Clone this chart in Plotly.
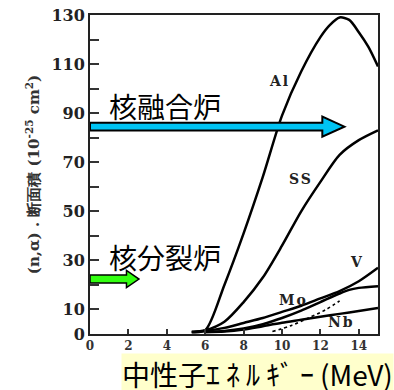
import plotly.graph_objects as go

# ---- data ----
x_al = [5.3, 6, 7, 8, 9, 10, 11, 12, 12.5, 13, 13.5, 14, 14.5, 15]
y_al = [0.8, 1.5, 20, 41, 64, 89, 107, 121, 126, 129, 128, 123, 117, 109]

x_ss = [5.3, 6, 7, 8, 9, 10, 11, 12, 13, 14, 15]
y_ss = [0.8, 1.5, 5, 13, 23, 36, 50, 62, 73, 79, 83]

x_v = [5.3, 6, 7, 8, 9, 10, 11, 12, 13, 14, 15]
y_v = [0.8, 1.2, 2.5, 4.5, 6.5, 9, 11.5, 14.5, 17.5, 21.5, 27]

x_mo = [6, 7, 8, 9, 10, 11, 12, 13, 13.5, 14, 15]
y_mo = [0.8, 1.2, 2.2, 4, 6.5, 9.5, 13, 16.5, 18, 18.8, 19.5]

x_nb = [6, 7, 8, 9, 10, 11, 12, 13, 14, 15]
y_nb = [0.8, 1.0, 1.8, 3.2, 4.6, 5.8, 7.0, 8.2, 9.4, 10.6]

x_dash = [9.5, 10.5, 11.5, 12.3, 13]
y_dash = [1, 3.5, 7, 10, 13.5]

curve_labels = ["Al", "SS", "V", "Mo", "Nb"]
label_x = [9.85, 11.0, 13.9, 10.6, 13.1]
label_y = [103, 63, 29.5, 14, 4.9]

x_ticks = [0, 2, 4, 6, 8, 10, 12, 14]
y_ticks = [0, 10, 20, 30, 40, 50, 60, 70, 80, 90, 100, 110, 120, 130]
y_ticktext = ["0", "10", " ", "30", " ", "50", " ", "70", " ", "90", " ", "110", " ", "130"]

fusion_y = 84.5      # 核融合炉 arrow level
fission_y = 22.4     # 核分裂炉 arrow level

serif = "DejaVu Serif"
cjk = "Noto Sans CJK JP"

fig = go.Figure()

line = dict(color="black", width=2.5, shape="spline", smoothing=0.8)
for xs, ys in [(x_al, y_al), (x_ss, y_ss), (x_v, y_v), (x_mo, y_mo), (x_nb, y_nb)]:
    fig.add_trace(go.Scatter(x=xs, y=ys, mode="lines", line=line, hoverinfo="skip"))
fig.add_trace(go.Scatter(x=x_dash, y=y_dash, mode="lines",
                         line=dict(color="black", width=1.6, dash="dot", shape="spline"),
                         hoverinfo="skip"))

# curve labels
for t, lx, ly in zip(curve_labels, label_x, label_y):
    fig.add_annotation(x=lx, y=ly, text=f'<span style="letter-spacing:2px">{t}</span>',
                       showarrow=False,
                       font=dict(family=serif, size=14, color="#222", weight="bold"))


def arrow_path(x0, x_head, x_tip, yc, half_shaft, half_head):
    return (f"M {x0},{yc - half_shaft} L {x_head},{yc - half_shaft} "
            f"L {x_head},{yc - half_head} L {x_tip},{yc} L {x_head},{yc + half_head} "
            f"L {x_head},{yc + half_shaft} L {x0},{yc + half_shaft} Z")


fig.add_shape(type="path", xref="x", yref="y",
              path=arrow_path(0, 12.1, 13.25, fusion_y, 1.6, 4.1),
              fillcolor="#00C4F4", line=dict(color="black", width=2))
fig.add_shape(type="path", xref="x", yref="y",
              path=arrow_path(0, 1.9, 2.55, fission_y, 1.6, 3.5),
              fillcolor="#33FF11", line=dict(color="black", width=1.5))

fig.add_annotation(x=3.9, y=93, text="核融合炉", showarrow=False,
                   font=dict(family=cjk, size=28, color="black"))
fig.add_annotation(x=3.9, y=31.4, text="核分裂炉", showarrow=False,
                   font=dict(family=cjk, size=28, color="black"))

# x-axis title with yellow background
fig.add_annotation(xref="paper", yref="paper", x=1.056, y=-0.058, xanchor="right", yanchor="top",
                   text='中性子<span style="letter-spacing:6px">ｴﾈﾙｷﾞｰ</span>(MeV)',
                   showarrow=False, bgcolor="#FFFFCC", borderpad=0,
                   font=dict(family=cjk, size=28, color="black"))

fig.update_layout(
    width=394, height=390,
    margin=dict(l=90, r=16, t=15, b=56, autoexpand=False),
    paper_bgcolor="white", plot_bgcolor="white",
    showlegend=False,
    xaxis=dict(range=[0, 15], tickmode="array", tickvals=x_ticks, automargin=False,
               ticks="inside", ticklen=5, tickwidth=1.5, tickcolor="#333",
               showline=True, linecolor="#222", linewidth=2, mirror=True,
               showgrid=False, zeroline=False,
               tickfont=dict(family=serif, size=12, color="#333", weight="bold")),
    yaxis=dict(range=[0, 130], tickmode="array", tickvals=y_ticks, ticktext=y_ticktext,
               automargin=False,
               ticks="inside", ticklen=9, tickwidth=1.5, tickcolor="#333",
               showline=True, linecolor="#222", linewidth=2, mirror=True,
               showgrid=False, zeroline=False,
               tickfont=dict(family=serif, size=16, color="#222", weight="bold"),
               title=dict(text="(n,α) . 断面積 (10<sup>-25</sup> cm<sup>2</sup>)",
                          standoff=8,
                          font=dict(family=serif, size=15, color="#333", weight="bold"))),
)

fig.write_html("out.html", config={"displayModeBar": False},
               post_script="document.body.style.margin='0px';document.body.style.padding='0px';")
